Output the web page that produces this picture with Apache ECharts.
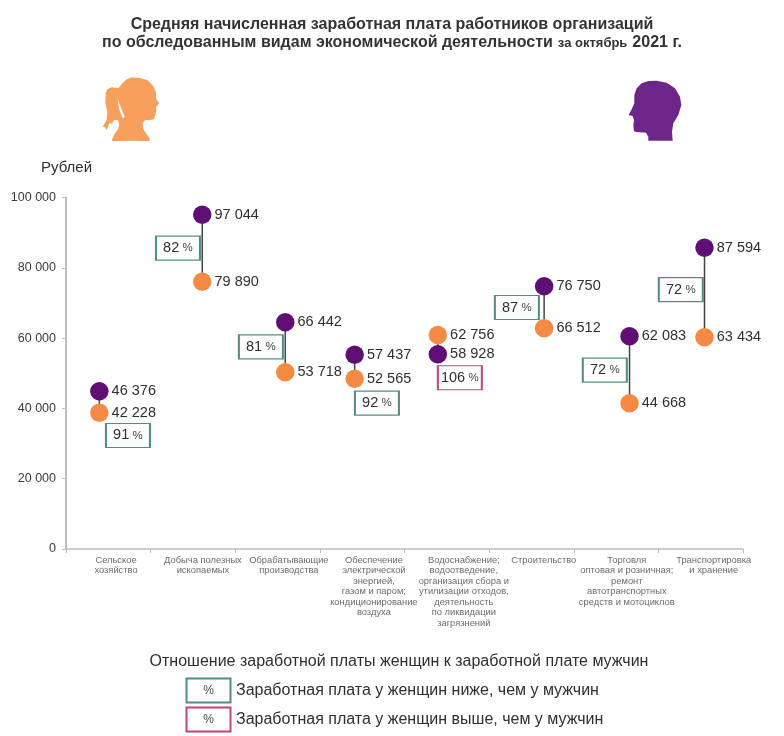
<!DOCTYPE html>
<html><head><meta charset="utf-8">
<style>html,body{margin:0;padding:0;background:#fff}#c{width:784px;height:736px}</style>
<script src="https://cdn.jsdelivr.net/npm/echarts@6/dist/echarts.min.js"></script></head>
<body><div id="c"></div>
<script>
const categories = ['Сельское\nхозяйство','Добыча полезных\nископаемых','Обрабатывающие\nпроизводства','Обеспечение\nэлектрической\nэнергией,\nгазом и паром;\nкондиционирование\nвоздуха','Водоснабжение;\nводоотведение,\nорганизация сбора и\nутилизации отходов,\nдеятельность\nпо ликвидации\nзагрязнений','Строительство','Торговля\nоптовая и розничная;\nремонт\nавтотранспортных\nсредств и мотоциклов','Транспортировка\nи хранение'];
// Category captions sit off the band centres in the picture
const captionX = [0.591,1.618,2.634,3.638,4.701,5.646,6.627,7.654];
// Marker places as drawn in the picture (they sit off the band centres and off the printed figures)
const pointX = [0.394,1.610,2.591,3.411,4.394,5.650,6.659,7.545];
const menPlot = [44870,95100,64500,55280,55390,74740,60510,85720];
const womenPlot = [38780,76050,50270,48450,60880,62790,41450,60230];
// Figures printed beside the markers
const menText = ['46 376','97 044','66 442','57 437','58 928','76 750','62 083','87 594'];
const womenText = ['42 228','79 890','53 718','52 565','62 756','66 512','44 668','63 434'];
const ratioText = [91,82,81,92,106,87,72,72];
const boxX = [0.732,1.323,2.303,3.674,4.654,5.328,6.367,7.265];
const boxY = [32300,85600,57500,41500,48700,68700,50900,73800];
const yTicks = {0:'0',20000:'20 000',40000:'40 000',60000:'60 000',80000:'80 000',100000:'100 000'};
const titleLine1 = 'Средняя начисленная заработная плата работников организаций';
const titleLine2 = 'по обследованным видам экономической деятельности';
const legendTitle = 'Отношение заработной платы женщин к заработной плате мужчин';
const legendLow = 'Заработная плата у женщин ниже, чем у мужчин';
const legendHigh = 'Заработная плата у женщин выше, чем у мужчин';

const FONT='"Liberation Sans", Arial, sans-serif';
const TEAL='#4F8F82', PINK='#C2447E', PURPLE='#5F0F74', ORANGE='#F58A45', TXT='#2f2f2f';
const womanPts=[[125,22],[150,24],[172,30],[190,48],[198,68],[198,85],[207,100],[203,106],[198,110],[199,122],[196,134],[192,148],[180,150],[165,150],[158,160],[160,178],[172,195],[180,208],[178,214],[130,212],[72,214],[65,212],[72,195],[84,178],[88,165],[84,150],[72,150],[66,162],[58,158],[54,170],[50,180],[45,172],[38,170],[50,150],[52,125],[46,100],[47,70],[52,58],[65,52],[85,55],[95,42],[110,28]];
const womanGap=[[82,85],[92,110],[104,140],[98,145],[88,120]];
const manPts=[[85,33],[110,32],[140,38],[165,55],[180,80],[184,105],[175,135],[160,160],[156,185],[158,212],[85,212],[85,200],[78,188],[50,186],[42,184],[40,165],[42,150],[38,138],[26,135],[35,118],[43,100],[43,75],[50,55],[65,40]];
const sil=(pts,x,y,fill)=>({type:'polygon',x,y,scaleX:1/3,scaleY:1/3,shape:{points:pts},style:{fill},silent:true});
const legBox=(y,stroke)=>({type:'rect',shape:{x:186.5,y,width:44,height:24},style:{fill:'#fff',stroke,lineWidth:2},silent:true});
const pctT=(y)=>({type:'text',x:208.5,y,style:{text:'%',font:'12px '+FONT,fill:'#444',align:'center',verticalAlign:'middle'},silent:true});
const legT=(x,y,text,align)=>({type:'text',x,y,style:{text,font:'16px '+FONT,fill:TXT,align:align||'left',verticalAlign:'middle'},silent:true});

const chart=echarts.init(document.getElementById('c'),null,{renderer:'canvas'});
chart.setOption({
 animation:false,backgroundColor:'#fff',
 title:{left:387,top:11,textAlign:'center',
  text:'{b|'+titleLine1+'}\n{b|'+titleLine2+'} {s|за октябрь} {b|2021 г.}',
  textStyle:{rich:{b:{fontFamily:FONT,fontWeight:'bold',fontSize:16,color:'#333',lineHeight:18},s:{fontFamily:FONT,fontWeight:'bold',fontSize:13,color:'#333',lineHeight:18}}}},
 grid:{left:66,right:41,top:197.5,bottom:187},
 xAxis:[
  {type:'category',data:categories,boundaryGap:true,
   axisLine:{lineStyle:{color:'#BDBDBD',width:1.5}},axisTick:{show:true,interval:0,alignWithLabel:false,length:4,lineStyle:{color:'#BDBDBD'}},
   axisLabel:{show:false},splitLine:{show:false}},
  {type:'value',min:0,max:8,show:false,position:'bottom'}],
 yAxis:{type:'value',min:0,max:100000,interval:20000,
  axisLine:{show:true,lineStyle:{color:'#BDBDBD',width:2}},axisTick:{show:true,length:4,lineStyle:{color:'#BDBDBD'}},
  splitLine:{show:false},
  axisLabel:{color:'#3a3a3a',fontFamily:FONT,fontSize:12.5,margin:10,formatter:v=>yTicks[v]}},
 series:[
  {type:'custom',name:'Связь',xAxisIndex:1,z:2,silent:true,
   data:pointX.map((x,i)=>[x,menPlot[i],womenPlot[i]]),encode:{x:0,y:[1,2]},
   renderItem:(p,api)=>{const a=api.coord([api.value(0),api.value(1)]),b=api.coord([api.value(0),api.value(2)]);
    return {type:'line',shape:{x1:a[0],y1:a[1],x2:b[0],y2:b[1]},style:{stroke:'#444',lineWidth:1.5}};}},
  {type:'scatter',name:'Мужчины',xAxisIndex:1,z:4,symbolSize:18.5,itemStyle:{color:PURPLE,opacity:1},
   data:pointX.map((x,i)=>[x,menPlot[i]]),
   label:{show:true,position:'right',distance:3,color:TXT,fontFamily:FONT,fontSize:14.5,formatter:p=>menText[p.dataIndex]}},
  {type:'scatter',name:'Женщины',xAxisIndex:1,z:4,symbolSize:18.5,itemStyle:{color:ORANGE,opacity:1},
   data:pointX.map((x,i)=>[x,womenPlot[i]]),
   label:{show:true,position:'right',distance:3,color:TXT,fontFamily:FONT,fontSize:14.5,formatter:p=>womenText[p.dataIndex]}},
  {type:'scatter',name:'Отношение',xAxisIndex:1,z:3,symbol:'rect',symbolSize:[44,24],
   data:boxX.map((x,i)=>({value:[x,boxY[i]],itemStyle:{color:'#fff',opacity:1,borderWidth:1.5,borderColor:ratioText[i]>100?PINK:TEAL}})),
   label:{show:true,position:'inside',formatter:p=>'{a|'+ratioText[p.dataIndex]+'} {b|%}',
    rich:{a:{fontFamily:FONT,fontSize:14.5,color:TXT},b:{fontFamily:FONT,fontSize:11.5,color:'#444'}}}},
  {type:'scatter',name:'Подписи',xAxisIndex:1,z:1,symbolSize:0,silent:true,clip:false,
   data:captionX.map(x=>[x,0]),
   label:{show:true,position:'bottom',distance:6,align:'center',verticalAlign:'top',color:'#444',fontFamily:FONT,fontSize:9.35,lineHeight:10.5,formatter:p=>categories[p.dataIndex]}}
 ],
 graphic:{elements:[
  sil(womanPts,90,70,'#F6A05C'),sil(womanGap,90,70,'#fff'),sil(manPts,620,70,'#6B2688'),
  {type:'text',x:41,y:167.5,style:{text:'Рублей',font:'15px '+FONT,fill:TXT,verticalAlign:'middle'},silent:true},
  legT(399,662,legendTitle,'center'),
  legBox(678.5,TEAL),pctT(691),legT(236,691,legendLow),
  legBox(707.5,PINK),pctT(720),legT(236,720,legendHigh)
 ]}
});
</script></body></html>
